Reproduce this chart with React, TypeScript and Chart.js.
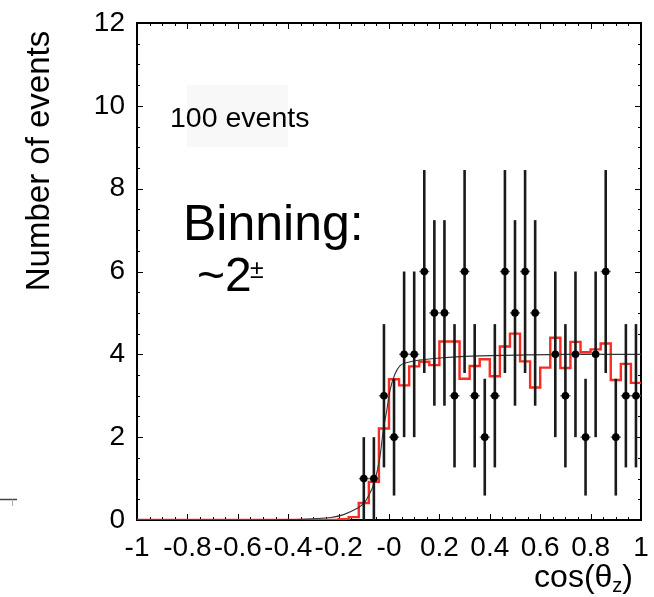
import React, { useEffect, useRef } from 'react';
import { Chart, registerables } from 'chart.js';

Chart.register(...registerables);

const FONT = '"Liberation Sans", Arial, Helvetica, sans-serif';

// Histogram bin edges in cos(theta_z)
const BIN_EDGES = [
  -1, -0.96, -0.92, -0.88, -0.84, -0.8, -0.76, -0.72, -0.68, -0.64,
  -0.6, -0.56, -0.52, -0.48, -0.44, -0.4, -0.36, -0.32, -0.28, -0.24,
  -0.2, -0.16, -0.12, -0.08, -0.04, 0, 0.04, 0.08, 0.12, 0.16,
  0.2, 0.24, 0.28, 0.32, 0.36, 0.4, 0.44, 0.48, 0.52, 0.56,
  0.6, 0.64, 0.68, 0.72, 0.76, 0.8, 0.84, 0.88, 0.92, 0.96, 1,
];

// Red histogram (expected events per bin)
const MC_EXPECTED = [
  0, 0, 0, 0, 0, 0, 0, 0, 0, 0,
  0, 0, 0, 0, 0, 0, 0, 0, 0, 0,
  0.02, 0.07, 0.41, 0.92, 2.21, 3.40, 3.25, 3.71, 3.82, 3.74,
  4.31, 4.31, 3.41, 3.72, 3.88, 3.47, 4.19, 4.50, 3.83, 3.20,
  3.68, 4.40, 3.67, 4.30, 4.05, 4.12, 4.26, 3.38, 3.77, 3.31,
];

// Data points (bin centres with counts) and their error bars
const POINT_X = [
  -0.10, -0.06, -0.02, 0.02, 0.06, 0.10, 0.14, 0.18, 0.22, 0.26,
  0.30, 0.34, 0.38, 0.42, 0.46, 0.50, 0.54, 0.58, 0.66, 0.70,
  0.74, 0.78, 0.82, 0.86, 0.90, 0.94, 0.98,
];
const POINT_Y = [
  1, 1, 3, 2, 4, 4, 6, 5, 5, 3,
  6, 3, 2, 3, 6, 5, 6, 5, 4, 3,
  4, 2, 4, 6, 2, 3, 3,
];
const POINT_ERR = [
  1, 1, 1.73, 1.41, 2, 2, 2.45, 2.24, 2.24, 1.73,
  2.45, 1.73, 1.41, 1.73, 2.45, 2.24, 2.45, 2.24, 2, 1.73,
  2, 1.41, 2, 2.45, 1.41, 1.73, 1.73,
];
const POINT_XERR = 0.02;

// Fitted curve (black)
const FIT_X = [
  -1, -0.6, -0.4, -0.3, -0.23, -0.18, -0.13, -0.1, -0.08, -0.06,
  -0.036, -0.023, -0.009, 0.004, 0.024, 0.044, 0.077, 0.12, 0.2, 0.3,
  0.5, 0.7, 1,
];
const FIT_Y = [
  0, 0, 0.01, 0.03, 0.06, 0.13, 0.27, 0.4, 0.6, 0.88,
  1.52, 2.16, 2.64, 3.13, 3.53, 3.73, 3.81, 3.86, 3.91, 3.95,
  3.98, 4.0, 4.0,
];

const X_MIN = -1;
const X_MAX = 1;
const X_STEP = 0.2;
const X_MINOR = 0.05;
const Y_MIN = 0;
const Y_MAX = 12;
const Y_STEP = 2;
const Y_MINOR = 0.5;

const W = 654;
const H = 597;

const frameAndTicks = {
  id: 'frameAndTicks',
  beforeDatasetsDraw(chart: any) {
    const { ctx, chartArea } = chart;
    const { left, right, top, bottom } = chartArea;
    const xs = chart.scales.x;
    const ys = chart.scales.y;
    ctx.save();
    ctx.strokeStyle = '#000';
    ctx.lineWidth = 1;
    const nx = Math.round((X_MAX - X_MIN) / X_MINOR);
    for (let i = 0; i <= nx; i++) {
      const v = X_MIN + i * X_MINOR;
      const px = Math.round(xs.getPixelForValue(v)) + 0.5;
      const major = i % Math.round(X_STEP / X_MINOR) === 0;
      const len = major ? 6 : 3;
      ctx.beginPath();
      ctx.moveTo(px, bottom);
      ctx.lineTo(px, bottom - len);
      ctx.moveTo(px, top);
      ctx.lineTo(px, top + len);
      ctx.stroke();
    }
    const ny = Math.round((Y_MAX - Y_MIN) / Y_MINOR);
    for (let i = 0; i <= ny; i++) {
      const v = Y_MIN + i * Y_MINOR;
      const py = Math.round(ys.getPixelForValue(v)) + 0.5;
      const major = i % Math.round(Y_STEP / Y_MINOR) === 0;
      const len = major ? 6 : 3;
      ctx.beginPath();
      ctx.moveTo(left, py);
      ctx.lineTo(left + len, py);
      ctx.moveTo(right, py);
      ctx.lineTo(right - len, py);
      ctx.stroke();
    }
    ctx.lineWidth = 2;
    ctx.strokeStyle = '#000';
    ctx.strokeRect(left, top, right - left, bottom - top);
    ctx.restore();
  },
};

const errorBars = {
  id: 'errorBars',
  beforeDatasetDraw(chart: any, args: any) {
    if (args.index !== 0) return;
    const { ctx } = chart;
    const xs = chart.scales.x;
    const ys = chart.scales.y;
    ctx.save();
    for (let i = 0; i < POINT_X.length; i++) {
      const px = xs.getPixelForValue(POINT_X[i]);
      const lo = Math.max(Y_MIN, POINT_Y[i] - POINT_ERR[i]);
      const hi = POINT_Y[i] + POINT_ERR[i];
      ctx.strokeStyle = '#1a1a1a';
      ctx.lineWidth = 2.6;
      ctx.beginPath();
      ctx.moveTo(px, ys.getPixelForValue(lo));
      ctx.lineTo(px, ys.getPixelForValue(hi));
      ctx.stroke();
      const py = ys.getPixelForValue(POINT_Y[i]);
      ctx.strokeStyle = '#666';
      ctx.lineWidth = 1.5;
      ctx.beginPath();
      ctx.moveTo(xs.getPixelForValue(POINT_X[i] - POINT_XERR), py);
      ctx.lineTo(xs.getPixelForValue(POINT_X[i] + POINT_XERR), py);
      ctx.stroke();
    }
    ctx.restore();
  },
};

const annotations = {
  id: 'annotations',
  afterDraw(chart: any) {
    const { ctx } = chart;
    ctx.save();
    ctx.fillStyle = '#f8f8f8';
    ctx.fillRect(187, 85, 101, 62);
    ctx.fillStyle = '#000';
    ctx.textBaseline = 'alphabetic';
    ctx.textAlign = 'left';
    ctx.font = `28.5px ${FONT}`;
    ctx.fillText('100 events', 170, 127);
    ctx.font = `50px ${FONT}`;
    ctx.fillText('Binning:', 183, 240);
    ctx.font = `48px ${FONT}`;
    ctx.fillText('~2', 197, 291);
    ctx.font = `25px ${FONT}`;
    ctx.fillText('±', 250, 278);

    ctx.save();
    ctx.translate(40, 161);
    ctx.rotate(-Math.PI / 2);
    ctx.textAlign = 'center';
    ctx.textBaseline = 'middle';
    ctx.font = `33px ${FONT}`;
    ctx.fillText('Number of events', 0, 0);
    ctx.restore();

    ctx.textBaseline = 'alphabetic';
    ctx.textAlign = 'left';
    const bigFont = `32px ${FONT}`;
    const subFont = `20px ${FONT}`;
    ctx.font = bigFont;
    const a = 'cos(θ';
    const c = ')';
    const wa = ctx.measureText(a).width;
    const wc = ctx.measureText(c).width;
    ctx.font = subFont;
    const wb = ctx.measureText('z').width;
    const rightEdge = 633;
    const x0 = rightEdge - (wa + wb + wc);
    const base = 587;
    ctx.font = bigFont;
    ctx.fillText(a, x0, base);
    ctx.font = subFont;
    ctx.fillText('z', x0 + wa, base + 5);
    ctx.font = bigFont;
    ctx.fillText(c, x0 + wa + wb, base);

    ctx.strokeStyle = '#444';
    ctx.lineWidth = 1.5;
    ctx.beginPath();
    ctx.moveTo(0, 499.5);
    ctx.lineTo(17, 499.5);
    ctx.stroke();
    ctx.strokeStyle = '#aaa';
    ctx.lineWidth = 1;
    ctx.beginPath();
    ctx.moveTo(12.5, 499.5);
    ctx.lineTo(12.5, 506);
    ctx.stroke();
    ctx.restore();
  },
};

function formatX(v: number): string {
  if (Math.abs(v) < 1e-9) return '-0';
  const s = v.toFixed(1);
  return s.endsWith('.0') ? s.slice(0, -2) : s;
}

function zeroPadding(s: any) {
  s.paddingLeft = 0;
  s.paddingRight = 0;
  s.paddingTop = 0;
  s.paddingBottom = 0;
}

export default function App() {
  const ref = useRef<HTMLCanvasElement>(null);

  useEffect(() => {
    const canvas = ref.current;
    if (!canvas) return;

    const histData = BIN_EDGES.map((x, i) => ({
      x,
      y: MC_EXPECTED[Math.min(i, MC_EXPECTED.length - 1)],
    }));
    const fitData = FIT_X.map((x, i) => ({ x, y: FIT_Y[i] }));
    const pointData = POINT_X.map((x, i) => ({ x, y: POINT_Y[i] }));

    const chart = new Chart(canvas, {
      type: 'line',
      data: {
        datasets: [
          {
            label: 'Data',
            data: pointData,
            showLine: false,
            pointRadius: 3.8,
            pointBackgroundColor: '#000',
            pointBorderColor: '#000',
            pointBorderWidth: 0,
          } as any,
          {
            label: 'Fit',
            data: fitData,
            borderColor: '#333',
            borderWidth: 1.1,
            pointRadius: 0,
            cubicInterpolationMode: 'monotone',
            fill: false,
          } as any,
          {
            label: 'Expected',
            data: histData,
            borderColor: 'rgb(245, 45, 35)',
            borderWidth: 2.4,
            pointRadius: 0,
            stepped: 'before',
            fill: false,
          } as any,
        ],
      },
      options: {
        responsive: false,
        animation: false,
        devicePixelRatio: 1,
        layout: { padding: { top: 23, right: 13, left: 0, bottom: 0 } },
        plugins: {
          legend: { display: false },
          tooltip: { enabled: false },
          title: { display: false },
        },
        scales: {
          x: {
            type: 'linear',
            min: X_MIN,
            max: X_MAX,
            grid: { display: false, drawTicks: false },
            border: { display: false },
            ticks: {
              stepSize: X_STEP,
              autoSkip: false,
              maxRotation: 0,
              minRotation: 0,
              padding: 11,
              color: '#000',
              font: { family: FONT, size: 28 },
              callback: (v: any) => formatX(Number(v)),
            },
            afterFit: (s: any) => {
              s.height = 77;
              zeroPadding(s);
            },
          },
          y: {
            type: 'linear',
            min: Y_MIN,
            max: Y_MAX,
            grid: { display: false, drawTicks: false },
            border: { display: false },
            ticks: {
              stepSize: Y_STEP,
              padding: 12,
              color: '#000',
              font: { family: FONT, size: 28 },
            },
            afterFit: (s: any) => {
              s.width = 137;
              zeroPadding(s);
            },
          },
        },
      } as any,
      plugins: [frameAndTicks, errorBars, annotations],
    });

    return () => chart.destroy();
  }, []);

  return (
    <div
      style={{
        position: 'absolute',
        left: 0,
        top: 0,
        width: W,
        height: H,
        background: '#fff',
      }}
    >
      <canvas ref={ref} width={W} height={H} style={{ display: 'block', width: W, height: H }} />
    </div>
  );
}
